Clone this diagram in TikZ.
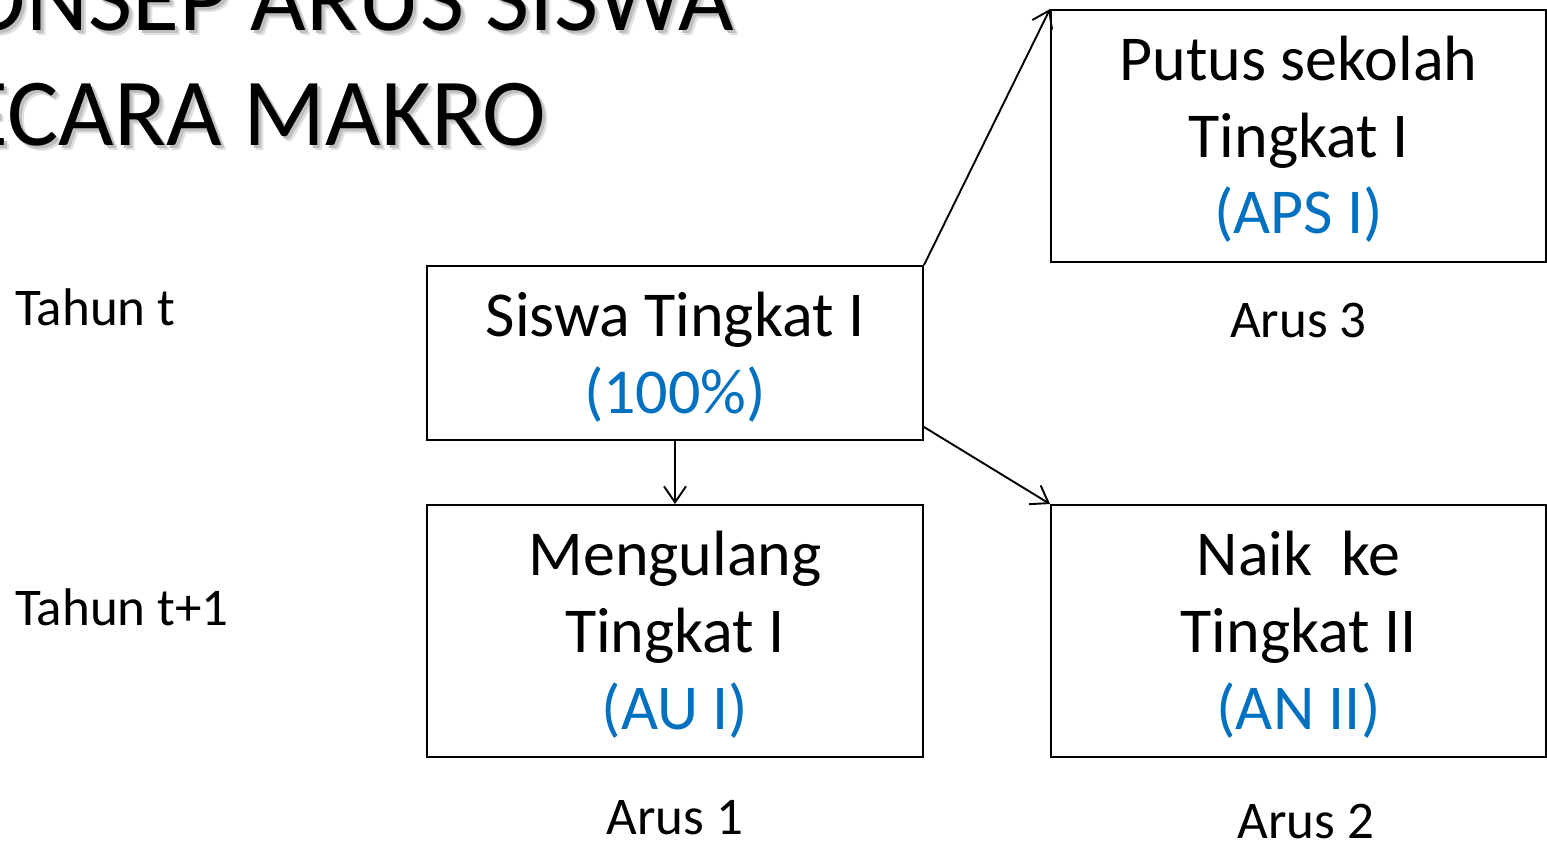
\documentclass[tikz,border=0pt]{standalone}
\usepackage{fontspec}
\setmainfont{Carlito}
\usetikzlibrary{arrows.meta,calc}
\definecolor{lblue}{HTML}{0070C0}
\begin{document}
\begin{tikzpicture}[x=1pt,y=-1pt,
  boxnode/.style={draw=black,line width=2pt,inner sep=0pt,minimum width=496pt},
  boxtxt/.style={anchor=base,inner sep=0pt,font=\fontsize{64}{77}\selectfont},
  bluetxt/.style={boxtxt,text=lblue},
  sidetxt/.style={anchor=base west,inner sep=0pt,font=\fontsize{53}{62}\selectfont},
  arustxt/.style={anchor=base,inner sep=0pt,font=\fontsize{53}{62}\selectfont},
  titletxt/.style={inner sep=0pt,font=\fontsize{96}{115}\selectfont},
  flow/.style={line width=1.9pt,-{Straight Barb[length=16pt,width=22pt,line width=1.9pt]}}]
\clip (0,0) rectangle (1547,844);
\fill[white] (0,0) rectangle (1547,844);

% title with soft shadow
\node[titletxt,anchor=base east,text=black!12] (t2s2) at (551,150) {SECARA MAKRO};
\node[titletxt,anchor=base west,text=black!12] (t1s2) at ($(t2s2.base west)+(0,-115)$) {KONSEP ARUS SISWA};
\node[titletxt,anchor=base east,text=black!25] (t2s) at (549,148) {SECARA MAKRO};
\node[titletxt,anchor=base west,text=black!25] (t1s) at ($(t2s.base west)+(0,-115)$) {KONSEP ARUS SISWA};
\node[titletxt,anchor=base east] (t2) at (546,145) {SECARA MAKRO};
\node[titletxt,anchor=base west] (t1) at ($(t2.base west)+(0,-115)$) {KONSEP ARUS SISWA};

% side labels
\node[sidetxt] (ty0) at (15,325) {Tahun t};
\node[sidetxt] (ty1) at (15,625) {Tahun t+1};

% boxes
\node[boxnode,minimum height=174pt] (b1) at (675,353) {};
\node[boxnode,minimum height=252pt] (b2) at (675,631) {};
\node[boxnode,minimum height=252pt,minimum width=495pt] (b3) at (1298.5,136) {};
\node[boxnode,minimum height=252pt,minimum width=495pt] (b4) at (1298.5,631) {};

% box texts
\node[boxtxt] (b1a) at (675,336) {Siswa Tingkat I};
\node[bluetxt] (b1b) at (675,413) {(100\%)};

\node[boxtxt] (b2a) at (675,575) {Mengulang};
\node[boxtxt] (b2b) at (675,652) {Tingkat I};
\node[bluetxt] (b2c) at (675,729) {(AU I)};

\node[boxtxt] (b3a) at (1298.5,80) {Putus sekolah};
\node[boxtxt] (b3b) at (1298.5,157) {Tingkat I};
\node[bluetxt] (b3c) at (1298.5,233) {(APS I)};

\node[boxtxt] (b4a) at (1298.5,575) {Naik~ ke};
\node[boxtxt] (b4b) at (1298.5,652) {Tingkat II};
\node[bluetxt] (b4c) at (1298.5,729) {(AN II)};

% flow labels
\node[arustxt] (a1) at (675,834) {Arus 1};
\node[arustxt] (a2) at (1306,838) {Arus 2};
\node[arustxt] (a3) at (1298.5,337) {Arus 3};

% connectors
\draw[flow] (b1.south) -- (b2.north);
\draw[flow] (b1.north east) -- (b3.north west);
\coordinate (s2) at ([yshift=14pt]b1.south east);
\draw[flow] (s2) -- (b4.north west);
\end{tikzpicture}
\end{document}
